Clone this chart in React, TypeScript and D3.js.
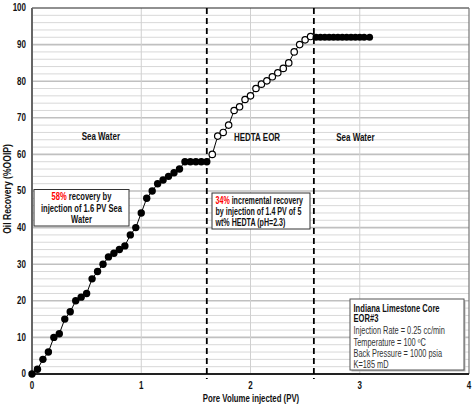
import React from 'react';
import * as d3 from 'd3';

// Stage 1: sea water flood (filled markers)
const seaWaterX = [0, 0.05, 0.1, 0.15, 0.2, 0.25, 0.3, 0.35, 0.4, 0.45, 0.5, 0.55, 0.6, 0.65, 0.7, 0.75, 0.8,
  0.85, 0.9, 0.95, 1.0, 1.05, 1.1, 1.15, 1.2, 1.25, 1.3, 1.35, 1.4, 1.45, 1.5, 1.55, 1.6];
const seaWaterY = [0, 1.3, 4, 6, 10, 11, 15, 17, 20, 21, 22, 26, 28, 30, 32, 33, 34,
  35, 38, 40, 44, 48, 50, 52, 53, 54, 55, 56, 58, 58, 58, 58, 58];

// Stage 2: HEDTA EOR (open markers)
const hedtaX = [1.65, 1.7, 1.75, 1.8, 1.85, 1.9, 1.95, 2.0, 2.05, 2.1, 2.15, 2.2, 2.25, 2.3, 2.35, 2.4, 2.45, 2.5, 2.55];
const hedtaY = [60, 65, 66, 68, 72, 73, 75, 76, 78, 79.2, 80.1, 81.2, 82.3, 83.5, 85, 88, 90, 91.3, 92.2];

// Stage 3: post-flush sea water (filled markers)
const postFlushX = [2.6, 2.64, 2.68, 2.72, 2.76, 2.8, 2.84, 2.88, 2.92, 2.96, 3.0, 3.04, 3.09];
const postFlushY = [92, 92, 92, 92, 92, 92, 92, 92, 92, 92, 92, 92, 92];

const xTicks = [0, 1, 2, 3, 4];
const yTicks = [0, 10, 20, 30, 40, 50, 60, 70, 80, 90, 100];
const minorY = [2, 4, 6, 8, 12, 14, 16, 18, 22, 24, 26, 28, 32, 34, 36, 38, 42, 44, 46, 48, 52, 54, 56, 58,
  62, 64, 66, 68, 72, 74, 76, 78, 82, 84, 86, 88, 92, 94, 96, 98];
const stageBounds = [1.6, 2.58];
const stageLabels = [
  { x: 0.63, y: 64.8, text: 'Sea Water' },
  { x: 2.06, y: 64.6, text: 'HEDTA EOR' },
  { x: 2.96, y: 64.6, text: 'Sea Water' },
];

const W = 476;
const H = 410;
const margin = { top: 8, right: 7, bottom: 36, left: 32 };
const FONT = '"Liberation Sans", Arial, sans-serif';
const SX = 0.8; // the source picture is squeezed horizontally

// text squeezed horizontally around its anchor point
const T: React.FC<{ x: number; y: number; anchor?: string; rot?: number; sx?: number; children?: React.ReactNode; [k: string]: any }> =
  ({ x, y, anchor = 'start', rot = 0, sx = SX, children, ...rest }) => (
    <text transform={`translate(${x},${y}) rotate(${rot}) scale(${sx},1)`} textAnchor={anchor} {...rest}>
      {children}
    </text>
  );

const App: React.FC = () => {
  const x = d3.scaleLinear().domain([0, 4]).range([margin.left, W - margin.right]);
  const y = d3.scaleLinear().domain([0, 100]).range([H - margin.bottom, margin.top]);

  type P = [number, number];
  const pts1: P[] = seaWaterX.map((v, i) => [v, seaWaterY[i]]);
  const pts2: P[] = hedtaX.map((v, i) => [v, hedtaY[i]]);
  const pts3: P[] = postFlushX.map((v, i) => [v, postFlushY[i]]);
  const all = [...pts1, ...pts2, ...pts3];

  const line = d3.line<P>().x(d => x(d[0])).y(d => y(d[1]));

  const x0 = x(0), x4 = x(4), y0 = y(0), y100 = y(100);

  return (
    <div style={{ position: 'absolute', left: 0, top: 0 }}>
      <svg width={W} height={H} style={{ display: 'block', background: '#fff' }} fontFamily={FONT}>
        {/* minor horizontal grid */}
        {minorY.map(v => (
          <line key={'m' + v} x1={x0} x2={x4} y1={y(v)} y2={y(v)} stroke="#d8d8d8" strokeWidth={1} />
        ))}
        {/* major horizontal grid */}
        {yTicks.slice(1, -1).map(v => (
          <line key={'M' + v} x1={x0} x2={x4} y1={y(v)} y2={y(v)} stroke="#c0c0c0" strokeWidth={1.6} />
        ))}
        {/* vertical grid */}
        {xTicks.slice(1, -1).map(v => (
          <line key={'v' + v} x1={x(v)} x2={x(v)} y1={y100} y2={y0} stroke="#d0d0d0" strokeWidth={1} />
        ))}

        {/* frame */}
        <line x1={x0} x2={x4} y1={y100} y2={y100} stroke="#222" strokeWidth={1.2} />
        <line x1={x4} x2={x4} y1={y100} y2={y0} stroke="#777" strokeWidth={1.2} />
        <line x1={x0} x2={x0} y1={y100} y2={y0 + 1} stroke="#666" strokeWidth={2} />
        <line x1={x0 - 1} x2={x4} y1={y0} y2={y0} stroke="#222" strokeWidth={2} />

        {/* stage boundaries */}
        {stageBounds.map(v => (
          <line key={'b' + v} x1={x(v)} x2={x(v)} y1={y100} y2={y0 + 5} stroke="#000"
            strokeWidth={1.8} strokeDasharray="6,4" />
        ))}

        {/* stage labels */}
        {stageLabels.map((s, i) => (
          <T key={'s' + i} x={x(s.x)} y={y(s.y)} anchor="middle" dominantBaseline="central"
            fontSize={10} fontWeight="bold" fill="#111">{s.text}</T>
        ))}

        {/* data line and markers */}
        <path d={line(all) || ''} fill="none" stroke="#000" strokeWidth={1} />
        {pts1.map((d, i) => (
          <circle key={'a' + i} cx={x(d[0])} cy={y(d[1])} r={3.7} fill="#000" />
        ))}
        {pts2.map((d, i) => (
          <circle key={'h' + i} cx={x(d[0])} cy={y(d[1])} r={3.2} fill="#fff" stroke="#000" strokeWidth={1.2} />
        ))}
        {pts3.map((d, i) => (
          <circle key={'c' + i} cx={x(d[0])} cy={y(d[1])} r={3.5} fill="#000" />
        ))}

        {/* tick labels */}
        {yTicks.map(v => (
          <T key={'yt' + v} x={x0 - 6} y={y(v)} anchor="end" dominantBaseline="central"
            fontSize={10} fontWeight="bold" fill="#111">{v}</T>
        ))}
        {xTicks.map(v => (
          <T key={'xt' + v} x={x(v)} y={y0 + 12} anchor="middle" dominantBaseline="central"
            fontSize={10} fontWeight="bold" fill="#111">{v}</T>
        ))}

        {/* axis titles */}
        <T x={251} y={399} anchor="middle" dominantBaseline="central" fontSize={10}
          fontWeight="bold" fill="#111" sx={0.78}>Pore Volume  injected (PV)</T>
        <T x={8} y={189} rot={-90} anchor="middle" dominantBaseline="central"
          fontSize={10} fontWeight="bold" fill="#111" sx={0.86}>Oil Recovery (%OOIP)</T>

        {/* annotation 1 */}
        <rect x={34} y={189.5} width={95} height={36.5} fill="#fff" stroke="#333" strokeWidth={1} />
        <g fontSize={10} fontWeight="bold" fill="#111">
          <T x={81.5} y={200} anchor="middle" sx={0.76}><tspan fill="#ff0000">58%</tspan> recovery by</T>
          <T x={81.5} y={211.5} anchor="middle" sx={0.76}>injection of  1.6 PV Sea</T>
          <T x={81.5} y={222.5} anchor="middle" sx={0.76}>Water</T>
        </g>

        {/* annotation 2 */}
        <rect x={212} y={193} width={98} height={36} fill="#fff" stroke="#333" strokeWidth={1} />
        <g fontSize={10} fontWeight="bold" fill="#111">
          <T x={215.5} y={203.5} sx={0.71}><tspan fill="#ff0000">34%</tspan> incremental recovery</T>
          <T x={215.5} y={215} sx={0.71}>by injection of  1.4 PV of 5</T>
          <T x={215.5} y={226} sx={0.71}>wt% HEDTA (pH=2.3)</T>
        </g>

        {/* core info box */}
        <rect x={351.5} y={300.5} width={114} height={71} fill="#bbb" />
        <rect x={350} y={299} width={114} height={71} fill="#fff" stroke="#555" strokeWidth={1} />
        <g fontSize={10} fill="#111">
          <T x={353.5} y={311.5} fontWeight="bold" sx={0.76}>Indiana Limestone Core</T>
          <T x={353.5} y={322} fontWeight="bold" sx={0.76}>EOR#3</T>
          <T x={353.5} y={333.5} fill="#333" sx={0.74}>Injection  Rate = 0.25 cc/min</T>
          <T x={353.5} y={346} fill="#333" sx={0.74}>Temperature  = 100 ºC</T>
          <T x={353.5} y={357} fill="#333" sx={0.74}>Back Pressure = 1000 psia</T>
          <T x={353.5} y={367.5} fill="#333" sx={0.74}>K=185 mD</T>
        </g>
      </svg>
    </div>
  );
};

export default App;
